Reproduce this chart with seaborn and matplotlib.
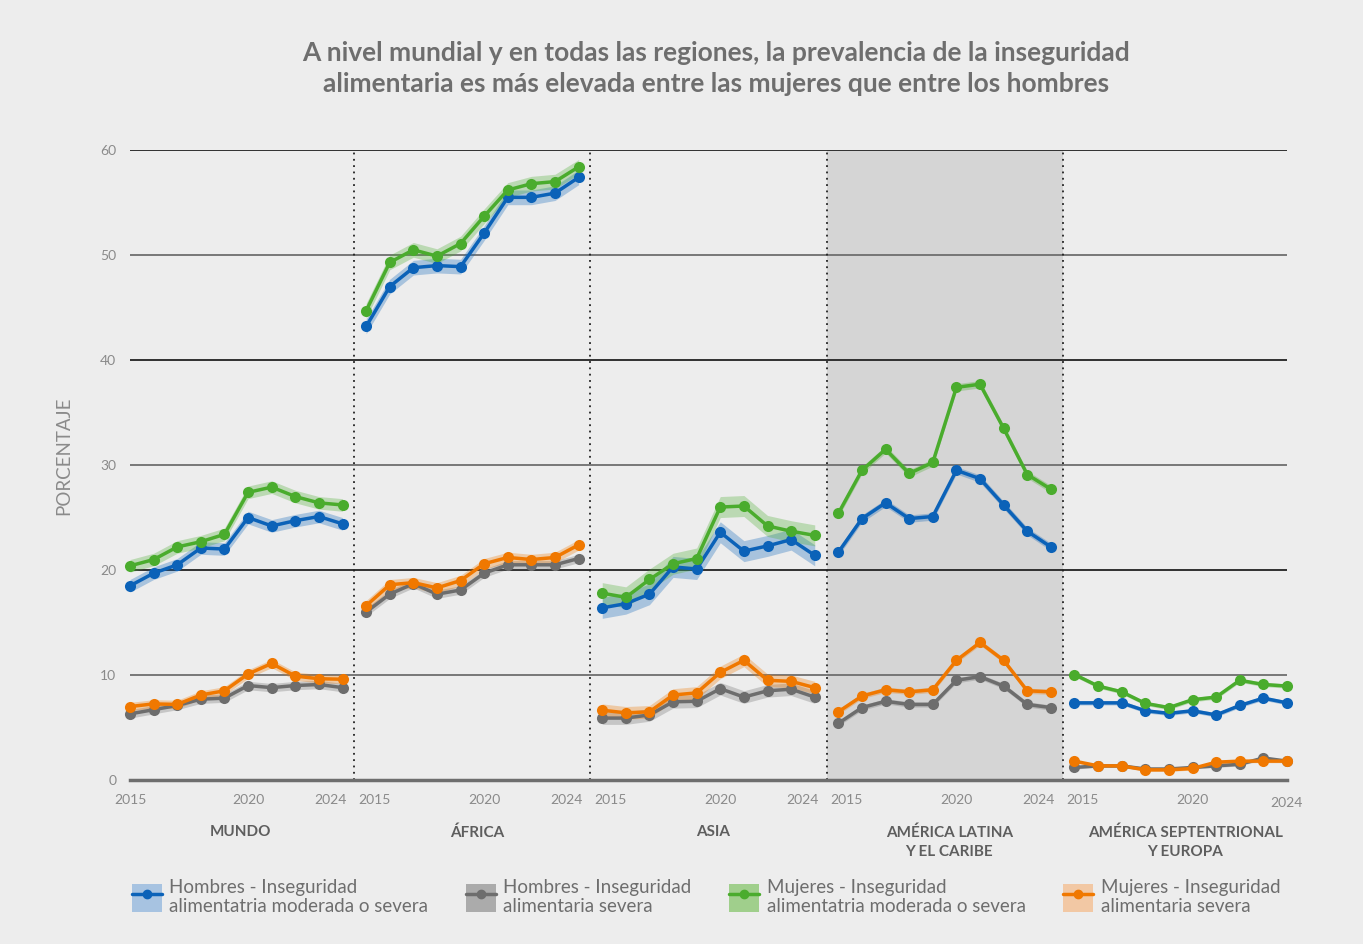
import numpy as np
import pandas as pd
import matplotlib
matplotlib.use("Agg")
import matplotlib.pyplot as plt
import matplotlib.transforms as mtransforms
import seaborn as sns
from matplotlib.patches import Patch
from matplotlib.lines import Line2D

# Data
years = list(range(2015, 2025))
regions = ["MUNDO", "ÁFRICA", "ASIA", "AMÉRICA LATINA\nY EL CARIBE",
           "AMÉRICA SEPTENTRIONAL\nY EUROPA"]

hombres_mod = [
    [18.5, 19.7, 20.5, 22.1, 22.0, 25.0, 24.2, 24.7, 25.1, 24.4],
    [43.2, 47.0, 48.8, 49.0, 48.9, 52.1, 55.5, 55.5, 55.9, 57.4],
    [16.4, 16.8, 17.7, 20.3, 20.1, 23.6, 21.8, 22.3, 22.9, 21.4],
    [21.7, 24.9, 26.4, 24.9, 25.1, 29.5, 28.7, 26.2, 23.7, 22.2],
    [7.35, 7.35, 7.35, 6.6, 6.35, 6.6, 6.2, 7.1, 7.8, 7.35],
]
hombres_sev = [
    [6.3, 6.7, 7.1, 7.7, 7.8, 9.0, 8.8, 9.0, 9.1, 8.8],
    [16.0, 17.7, 18.7, 17.7, 18.1, 19.7, 20.5, 20.5, 20.5, 21.1],
    [5.9, 5.9, 6.2, 7.45, 7.5, 8.7, 7.9, 8.5, 8.65, 7.9],
    [5.4, 6.9, 7.5, 7.2, 7.2, 9.5, 9.85, 8.95, 7.2, 6.9],
    [1.2, 1.35, 1.35, 1.05, 1.05, 1.2, 1.35, 1.5, 2.1, 1.8],
]
mujeres_mod = [
    [20.4, 21.0, 22.2, 22.7, 23.4, 27.4, 27.9, 27.0, 26.4, 26.2],
    [44.7, 49.3, 50.5, 49.9, 51.1, 53.7, 56.2, 56.8, 57.0, 58.4],
    [17.8, 17.4, 19.1, 20.6, 21.1, 26.0, 26.1, 24.2, 23.7, 23.3],
    [25.4, 29.5, 31.5, 29.2, 30.25, 37.4, 37.7, 33.5, 29.1, 27.7],
    [10.05, 8.95, 8.4, 7.3, 6.9, 7.65, 7.9, 9.5, 9.1, 8.95],
]
mujeres_sev = [
    [7.0, 7.25, 7.2, 8.1, 8.5, 10.1, 11.1, 9.9, 9.65, 9.6],
    [16.6, 18.6, 18.8, 18.3, 19.0, 20.6, 21.2, 21.0, 21.2, 22.4],
    [6.65, 6.4, 6.5, 8.1, 8.3, 10.25, 11.4, 9.5, 9.4, 8.8],
    [6.5, 8.0, 8.6, 8.4, 8.6, 11.4, 13.1, 11.4, 8.5, 8.4],
    [1.8, 1.35, 1.35, 0.97, 0.97, 1.1, 1.7, 1.8, 1.8, 1.8],
]
# approximate half-width of the shaded bands, per region
band_hombres_mod = [0.6, 0.7, 1.0, 0.35, 0.2]
band_hombres_sev = [0.4, 0.4, 0.6, 0.25, 0.15]
band_mujeres_mod = [0.6, 0.7, 1.0, 0.35, 0.2]
band_mujeres_sev = [0.4, 0.5, 0.6, 0.25, 0.15]

series = [
    ("Hombres - Inseguridad\nalimentatria moderada o severa", hombres_mod, band_hombres_mod, "#0b62b8", "#a7c3e1"),
    ("Hombres - Inseguridad\nalimentaria severa", hombres_sev, band_hombres_sev, "#6d6d6d", "#ababab"),
    ("Mujeres - Inseguridad\nalimentatria moderada o severa", mujeres_mod, band_mujeres_mod, "#4aac2d", "#a0cf8c"),
    ("Mujeres - Inseguridad\nalimentaria severa", mujeres_sev, band_mujeres_sev, "#f07800", "#f2c8a4"),
]

rows = []
for name, vals, _, _, _ in series:
    for r, region in enumerate(regions):
        for j, v in enumerate(vals[r]):
            rows.append({"x": r * 10 + j, "value": v, "serie": name, "region": region})
df = pd.DataFrame(rows)

sns.set_style("white")
plt.rcParams["font.family"] = ["Lato", "DejaVu Sans"]

bg = "#ededed"
fig = plt.figure(figsize=(13.63, 9.44), dpi=100, facecolor=bg)
ax = fig.add_axes([0.0954, 0.1737, 0.8488, 0.6673], facecolor=bg)

ax.axvspan(29.5, 39.5, color="#d5d5d5", zorder=0, lw=0)
for y in range(10, 70, 10):
    ax.axhline(y, color="#222222" if y in (20, 40, 60) else "#6e6e6e", lw=1.3, zorder=1)
for xs in (9.5, 19.5, 29.5, 39.5):
    ax.axvline(xs, color="#222222", ls=(0, (1, 2.5)), lw=1.3, zorder=1)

for name, vals, bands, col, bcol in series:
    for r in range(len(regions)):
        xx = np.arange(10) + r * 10
        v = np.array(vals[r])
        ax.fill_between(xx, v - bands[r], v + bands[r], color=col, alpha=0.3, lw=0, zorder=2)

palette = {s[0]: s[3] for s in series}
sns.lineplot(data=df, x="x", y="value", hue="serie", units="region", estimator=None,
             palette=palette, marker="o", markersize=8, markeredgewidth=0, lw=2.5,
             legend=False, ax=ax, zorder=3, clip_on=False)

ax.set_xlim(0, 49)
ax.set_ylim(0, 60)
ax.set_yticks(range(0, 70, 10))
ax.tick_params(axis="y", length=0, labelsize=10, labelcolor="#8a8a8a", pad=10)
ax.set_xticks([r * 10 + j for r in range(5) for j in (0, 5, 9)])
ax.set_xticklabels(["2015", "2020", "2024"] * 5)
ax.set_xticks(np.arange(50), minor=True)
ax.tick_params(axis="x", which="both", length=6, width=1.2, color="#6e6e6e",
               labelsize=10, labelcolor="#8a8a8a", pad=4)

# nudge the year labels so neighbouring panels do not collide
for i, lab in enumerate(ax.get_xticklabels()):
    r, k = divmod(i, 3)
    dx, dy = 0, 0
    if k == 0 and r > 0:
        dx = 8
    elif k == 2 and r < 4:
        dx = -12
    elif k == 2:
        dy = -3
    lab.set_transform(lab.get_transform() + mtransforms.ScaledTranslation(dx / 100, dy / 100, fig.dpi_scale_trans))

for side in ("top", "right", "left"):
    ax.spines[side].set_visible(False)
ax.spines["bottom"].set_color("#6e6e6e")
ax.spines["bottom"].set_linewidth(2.5)
ax.set_xlabel("")
ax.set_ylabel("PORCENTAJE", fontsize=13.5, color="#8a8a8a")
ax.yaxis.set_label_coords(-0.05, 0.515)

for r, region in enumerate(regions):
    ax.text(r * 10 + 4.7, -4.3, region, ha="center", va="top", fontsize=11,
            fontweight="bold", color="#5e5e5e", linespacing=1.45)

fig.text(0.525, 0.957, "A nivel mundial y en todas las regiones, la prevalencia de la inseguridad\n"
         "alimentaria es más elevada entre las mujeres que entre los hombres",
         ha="center", va="top", fontsize=19, fontweight="bold", color="#6e6e6e", linespacing=1.38)

handles = []
for name, vals, bands, col, bcol in series:
    handles.append((Patch(facecolor=bcol, edgecolor="none"),
                    Line2D([], [], color=col, lw=2.5, marker="o", markersize=6)))
leg = fig.legend(handles, [s[0] for s in series], ncol=4, loc="center",
                 bbox_to_anchor=(0.518, 0.05), frameon=False, fontsize=13.5,
                 handlelength=1.6, handleheight=1.9, handletextpad=0.4,
                 columnspacing=2.0, labelspacing=0.2)
for t in leg.get_texts():
    t.set_color("#6e6e6e")
    t.set_linespacing(1.1)

fig.savefig("out.png", dpi=100, facecolor=bg)
